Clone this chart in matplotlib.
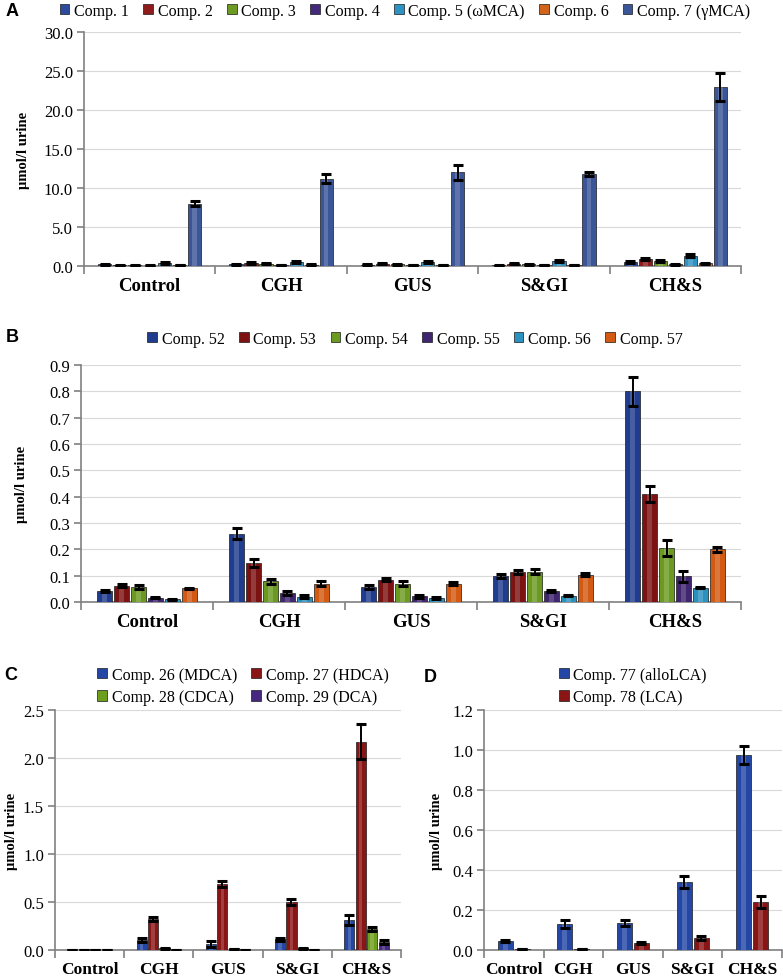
import numpy as np
import matplotlib.pyplot as plt
import matplotlib.transforms as mtrans

plt.rcParams['font.family'] = ['Liberation Serif', 'DejaVu Serif']

groups = ['Control', 'CGH', 'GUS', 'S&GI', 'CH&S']

# panel A
a_names = ['Comp. 1', 'Comp. 2', 'Comp. 3', 'Comp. 4', 'Comp. 5 (ωMCA)', 'Comp. 6', 'Comp. 7 (γMCA)']
a_vals = [[0.2, 0.2, 0.15, 0.1, 0.5],
          [0.1, 0.4, 0.3, 0.3, 0.9],
          [0.1, 0.3, 0.2, 0.2, 0.6],
          [0.05, 0.1, 0.1, 0.1, 0.2],
          [0.4, 0.5, 0.5, 0.6, 1.3],
          [0.1, 0.15, 0.1, 0.1, 0.35],
          [8.0, 11.2, 12.0, 11.8, 23.0]]
a_errs = [[0.05, 0.05, 0.05, 0.05, 0.1],
          [0.05, 0.1, 0.08, 0.08, 0.15],
          [0.05, 0.08, 0.06, 0.06, 0.12],
          [0.03, 0.03, 0.03, 0.03, 0.05],
          [0.1, 0.12, 0.12, 0.12, 0.2],
          [0.03, 0.05, 0.03, 0.03, 0.08],
          [0.3, 0.6, 1.0, 0.3, 1.8]]
a_cols = ['#2c4a9e', '#8e1c1c', '#6d9a22', '#44287a', '#2e92c2', '#d2641c', '#3a5598']

# panel B
b_names = ['Comp. 52', 'Comp. 53', 'Comp. 54', 'Comp. 55', 'Comp. 56', 'Comp. 57']
b_vals = [[0.042, 0.26, 0.058, 0.10, 0.80],
          [0.062, 0.148, 0.085, 0.115, 0.41],
          [0.058, 0.078, 0.07, 0.115, 0.205],
          [0.017, 0.035, 0.022, 0.042, 0.097],
          [0.01, 0.02, 0.015, 0.024, 0.055],
          [0.052, 0.07, 0.07, 0.104, 0.20]]
b_errs = [[0.005, 0.02, 0.008, 0.008, 0.055],
          [0.005, 0.015, 0.005, 0.008, 0.03],
          [0.008, 0.01, 0.008, 0.01, 0.03],
          [0.003, 0.007, 0.005, 0.003, 0.02],
          [0.002, 0.005, 0.003, 0.003, 0.003],
          [0.003, 0.008, 0.005, 0.005, 0.01]]
b_cols = ['#1f3c8e', '#7c1212', '#6b9a20', '#40256f', '#2b92c0', '#d25a12']

# panel C
c_names = ['Comp. 26 (MDCA)', 'Comp. 27 (HDCA)', 'Comp. 28 (CDCA)', 'Comp. 29 (DCA)']
c_vals = [[0.005, 0.10, 0.06, 0.11, 0.31],
          [0.005, 0.32, 0.69, 0.50, 2.17],
          [0.005, 0.02, 0.01, 0.02, 0.22],
          [0.005, 0.005, 0.004, 0.005, 0.08]]
c_errs = [[0.0, 0.02, 0.03, 0.015, 0.05],
          [0.0, 0.02, 0.03, 0.03, 0.18],
          [0.0, 0.005, 0.003, 0.005, 0.02],
          [0.0, 0.0, 0.0, 0.0, 0.02]]
c_cols = ['#2447a6', '#8a1515', '#6d9e1e', '#46297e']

# panel D
d_names = ['Comp. 77 (alloLCA)', 'Comp. 78 (LCA)']
d_vals = [[0.045, 0.13, 0.135, 0.34, 0.975],
          [0.005, 0.005, 0.035, 0.06, 0.24]]
d_errs = [[0.005, 0.02, 0.015, 0.03, 0.045],
          [0.002, 0.002, 0.004, 0.01, 0.03]]
d_cols = ['#2447a6', '#8a1515']

W, H = 783, 979
fig = plt.figure(figsize=(W / 100, H / 100), dpi=100)


def add_ax(l, t, r, b):
    return fig.add_axes([l / W, 1 - b / H, (r - l) / W, (b - t) / H])


def panel(ax, vals, errs, cols, names, ymax, step, width, lab_size, ylab_x,
          letter, letter_xy, leg_xy, ncol):
    n = len(vals)
    x = np.arange(len(groups))
    bw = width / n
    handles = []
    for i in range(n):
        pos = x - width / 2 + bw * (i + 0.5)
        h = ax.bar(pos, vals[i], bw * 0.88, color=cols[i], edgecolor='#1a1a1a',
                   linewidth=0.5, label=names[i], zorder=3)
        handles.append(h)
        # light band for the bevelled look
        ax.bar(pos, vals[i], bw * 0.3, color='white', alpha=0.18,
               linewidth=0, zorder=3.5)
        ax.errorbar(pos, vals[i], yerr=errs[i], fmt='none', ecolor='black',
                    elinewidth=1.4, capsize=3.5, capthick=2.2, zorder=4)
    ax.set_xlim(-0.5, len(groups) - 0.5)
    ax.set_ylim(0, ymax)
    ticks = np.arange(0, ymax + step / 2, step)
    ax.set_yticks(ticks)
    ax.set_yticklabels(['%.1f' % t for t in ticks], fontsize=12)
    ax.set_xticks(np.arange(len(groups) + 1) - 0.5)
    ax.set_xticklabels([])
    ax.set_xticks(x, minor=True)
    ax.set_xticklabels(groups, minor=True, fontsize=lab_size, fontweight='bold')
    ax.tick_params(axis='x', which='minor', length=0, pad=8)
    ax.tick_params(axis='x', which='major', length=6, color='#808080', width=1.2)
    ax.tick_params(axis='y', length=5, color='#808080', width=1.2, pad=3)
    ax.grid(axis='y', color='#d9d9d9', linewidth=0.8, zorder=0)
    ax.set_axisbelow(True)
    for s in ['top', 'right']:
        ax.spines[s].set_visible(False)
    for s in ['left', 'bottom']:
        ax.spines[s].set_color('#808080')
        ax.spines[s].set_linewidth(1.2)
    ax.set_ylabel('µmol/l urine', fontsize=10.5, fontweight='bold')
    tr = mtrans.blended_transform_factory(fig.transFigure, ax.transAxes)
    ax.yaxis.set_label_coords(ylab_x / W, 0.5, transform=tr)
    fig.text(letter_xy[0] / W, 1 - letter_xy[1] / H, letter, fontsize=13,
             fontweight='bold', family='Liberation Sans', va='center', ha='left')
    # legend fills row by row
    nrow = int(np.ceil(n / ncol))
    order = [r * ncol + c for c in range(ncol) for r in range(nrow) if r * ncol + c < n]
    ax.legend([handles[k] for k in order], [names[k] for k in order],
              loc='center', bbox_to_anchor=(leg_xy[0] / W, 1 - leg_xy[1] / H),
              bbox_transform=fig.transFigure, ncol=ncol, frameon=False,
              fontsize=11.5, handlelength=0.6, handleheight=0.6, handletextpad=0.3,
              columnspacing=0.9, labelspacing=0.4, borderpad=0)


axA = add_ax(84, 33, 741, 267)
panel(axA, a_vals, a_errs, a_cols, a_names, 30, 5, 0.8, 13.5, 30,
      'A', (6, 12), (405, 12), 7)

axB = add_ax(81, 366, 741, 603)
panel(axB, b_vals, b_errs, b_cols, b_names, 0.9, 0.1, 0.77, 13.5, 28,
      'B', (6, 338), (415, 340), 6)

axC = add_ax(55, 711, 401, 951)
panel(axC, c_vals, c_errs, c_cols, c_names, 2.5, 0.5, 0.66, 12.5, 18,
      'C', (4, 675), (243, 687), 2)

axD = add_ax(484, 711, 782, 951)
panel(axD, d_vals, d_errs, d_cols, d_names, 1.2, 0.2, 0.57, 12.5, 443,
      'D', (424, 678), (633, 687), 1)

fig.savefig('out.png', dpi=100)
